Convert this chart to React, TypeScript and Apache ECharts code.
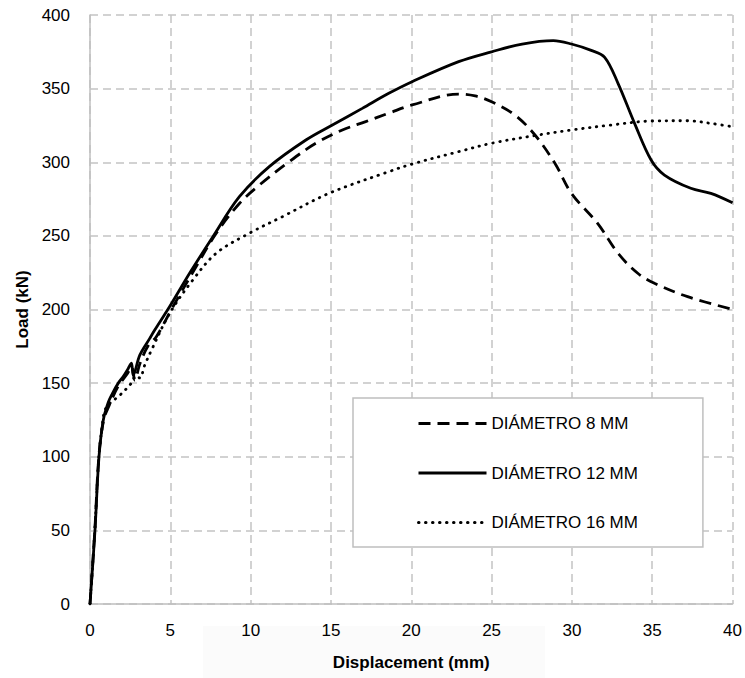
import React, { useEffect, useRef } from "react";
import * as echarts from "echarts";

const xTicks = { min: 0, max: 40, interval: 5 };
const yTicks = { min: 0, max: 400, interval: 50 };

const seriesNames = ["DIÁMETRO 8 MM", "DIÁMETRO 12 MM", "DIÁMETRO 16 MM"];

const d8X = [0, 0.3, 0.55, 0.85, 1.2, 1.76, 2.3, 2.6, 2.79, 3.1, 3.6, 4.13, 5.17, 6.6, 7.86, 9.3, 10.54, 12.4, 14.06, 15.71, 17.16, 18.6, 20.05, 22.95, 23.98, 25, 26.46, 27.7, 28.94, 29.97, 31.6, 32.87, 34.1, 35.14, 37.2, 40];
const d8Y = [0, 50, 100, 125, 135, 148, 156, 161, 152, 163, 175, 181.5, 202, 229, 251.8, 272, 284.5, 300.4, 312.9, 321.9, 327.6, 333.3, 338.9, 346.3, 345, 341.1, 332, 318.5, 299.3, 278.9, 258.5, 238.2, 224.6, 217.8, 208.7, 200.1];

const d12X = [0, 0.31, 0.56, 0.83, 1.14, 1.4, 1.76, 2.1, 2.38, 2.58, 2.69, 3.1, 3.72, 4.03, 4.96, 6.2, 7.65, 9.3, 11.16, 13.44, 15.09, 16.95, 18.6, 20.05, 22.95, 25.0, 26.9, 28.84, 29.97, 31.2, 32.04, 32.87, 33.9, 34.93, 35.76, 37.4, 38.65, 40];
const d12Y = [0, 50, 100, 125, 137, 143, 150, 155, 160, 163.5, 155.5, 169, 180.4, 186, 202, 224.6, 249.4, 276.6, 297, 315.1, 325.3, 336.6, 346.8, 354.7, 368.3, 375, 380.3, 382.6, 380.3, 376, 371.3, 353.6, 326.4, 301.5, 291.3, 282.3, 278.9, 272.5];

const d16X = [0, 0.3, 0.55, 0.75, 0.93, 1.3, 1.76, 2.58, 2.85, 3.1, 3.4, 3.83, 4.96, 6.4, 7.86, 9.92, 11.99, 14.88, 18.6, 20.05, 22.95, 25, 27.9, 29.97, 32.45, 34.93, 37.2, 38.65, 40];
const d16Y = [0, 50, 100, 120, 131.7, 137, 140.8, 150, 155, 153.5, 162, 172.5, 197.4, 220, 238.2, 251.8, 263.1, 278.9, 293.6, 298.8, 307.2, 312.9, 318.5, 321.9, 325.3, 328, 328.2, 326.4, 324.1];

const FONT = "'Liberation Sans', Arial, sans-serif";

function pairs(xs: number[], ys: number[]) {
  return xs.map((x, i) => [x, ys[i]]);
}

export default function App() {
  const ref = useRef<HTMLDivElement>(null);

  useEffect(() => {
    if (!ref.current) return;
    const chart = echarts.init(ref.current, null, { renderer: "svg" });
    const gridLine = { lineStyle: { color: "#c3c3c3", width: 1.5, type: [8, 5] as any } };
    const axisLine = { show: true, lineStyle: { color: "#bfbfbf", width: 1.5 } };
    const common = {
      type: "line",
      symbol: "none",
      smooth: 0.35,
      z: 3,
    };
    chart.setOption({
      animation: false,
      backgroundColor: "#ffffff",
      textStyle: { fontFamily: FONT },
      grid: { left: 90, right: 10, top: 15, bottom: 74 },
      graphic: [
        {
          type: "rect",
          shape: { x: 203, y: 626, width: 342, height: 52 },
          style: { fill: "#fbfbfb" },
          z: -10,
          silent: true,
        },
      ],
      xAxis: {
        type: "value",
        min: xTicks.min,
        max: xTicks.max,
        interval: xTicks.interval,
        name: "Displacement (mm)",
        nameLocation: "middle",
        nameGap: 50,
        nameTextStyle: { fontSize: 17, fontWeight: "bold", color: "#000", fontFamily: FONT },
        axisLine,
        axisTick: { show: false },
        axisLabel: { fontSize: 17, color: "#000", margin: 18, fontFamily: FONT },
        splitLine: { show: true, ...gridLine },
      },
      yAxis: {
        type: "value",
        min: yTicks.min,
        max: yTicks.max,
        interval: yTicks.interval,
        name: "Load (kN)",
        nameLocation: "middle",
        nameGap: 58,
        nameTextStyle: { fontSize: 17, fontWeight: "bold", color: "#000", fontFamily: FONT },
        axisLine,
        axisTick: { show: false },
        axisLabel: { fontSize: 17, color: "#000", margin: 20, fontFamily: FONT },
        splitLine: { show: true, ...gridLine },
      },
      legend: {
        orient: "vertical",
        left: 353,
        top: 398,
        itemWidth: 68,
        itemHeight: 20,
        itemGap: 32.5,
        padding: [17, 65, 16, 64],
        backgroundColor: "#ffffff",
        borderColor: "#bfbfbf",
        borderWidth: 1.5,
        borderRadius: 0,
        itemStyle: { opacity: 0 },
        lineStyle: { width: 3 },
        textStyle: { fontSize: 17, color: "#000", fontFamily: FONT },
        data: seriesNames,
      },
      series: [
        {
          ...common,
          name: seriesNames[0],
          data: pairs(d8X, d8Y),
          lineStyle: { color: "#000", width: 2.8, type: [12, 7] },
          itemStyle: { color: "#000" },
        },
        {
          ...common,
          name: seriesNames[1],
          data: pairs(d12X, d12Y),
          lineStyle: { color: "#000", width: 2.8, type: "solid" },
          itemStyle: { color: "#000" },
        },
        {
          ...common,
          name: seriesNames[2],
          data: pairs(d16X, d16Y),
          lineStyle: { color: "#000", width: 2.8, type: [0.5, 6.5], cap: "round" },
          itemStyle: { color: "#000" },
        },
      ],
    });
    return () => chart.dispose();
  }, []);

  return (
    <div
      ref={ref}
      style={{ position: "fixed", left: 0, top: 0, width: 745, height: 678 }}
    />
  );
}
